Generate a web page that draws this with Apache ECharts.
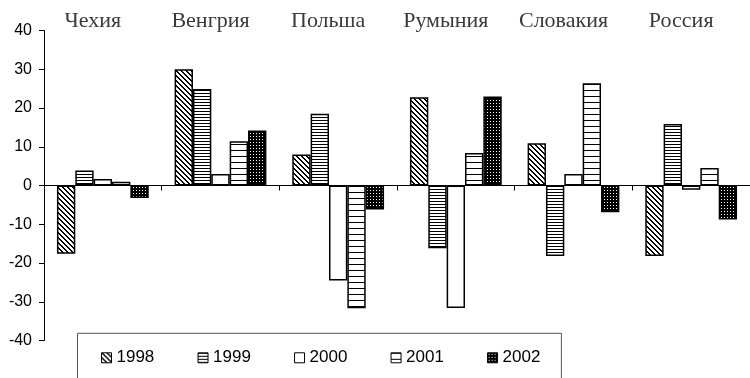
<!DOCTYPE html>
<html>
<head>
<meta charset="utf-8">
<script src="https://cdn.jsdelivr.net/npm/echarts@6/dist/echarts.min.js"></script>
<style>
html,body{margin:0;padding:0;background:#fff;}
#chart{width:750px;height:378px;}
</style>
</head>
<body>
<div id="chart"></div>
<script>
var categories = ['Чехия', 'Венгрия', 'Польша', 'Румыния', 'Словакия', 'Россия'];
var years = ['1998', '1999', '2000', '2001', '2002'];
var v1998 = [-17.6, 30.0, 8.0, 22.8, 10.9, -18.2];
var v1999 = [3.9, 24.9, 18.5, -16.2, -18.2, 15.9];
var v2000 = [1.7, 3.0, -24.5, -31.6, 3.0, -1.1];
var v2001 = [1.0, 11.4, -31.7, 8.4, 26.4, 4.5];
var v2002 = [-3.2, 14.2, -6.2, 23.0, -6.9, -8.8];
var yMin = -40, yMax = 40, yStep = 10;

function makePattern(kind) {
  var c = document.createElement('canvas');
  var w, h;
  if (kind === 'diag') { w = 5; h = 5; }
  else if (kind === 'hdense') { w = 4; h = 3; }
  else if (kind === 'hwide') { w = 4; h = 6; }
  else if (kind === 'dots') { w = 3; h = 3; }
  else { w = 2; h = 2; }
  c.width = w; c.height = h;
  var ctx = c.getContext('2d');
  ctx.fillStyle = '#fff';
  ctx.fillRect(0, 0, w, h);
  ctx.fillStyle = '#000';
  var x, y;
  if (kind === 'diag') {
    for (y = 0; y < h; y++) for (x = 0; x < w; x++) {
      var d = ((x - y) % 5 + 5) % 5;
      if (d === 0 || d === 1) ctx.fillRect(x, y, 1, 1);
    }
  } else if (kind === 'hdense') {
    ctx.fillRect(0, 0, w, 1);
  } else if (kind === 'hwide') {
    ctx.fillRect(0, 0, w, 1);
  } else if (kind === 'dots') {
    ctx.fillRect(0, 0, w, h);
    ctx.fillStyle = '#fff';
    ctx.fillRect(1, 1, 1, 1);
  }
  return { image: c, repeat: 'repeat' };
}

var fills = [makePattern('diag'), makePattern('hdense'), '#ffffff', makePattern('hwide'), makePattern('dots')];
var values = [v1998, v1999, v2000, v2001, v2002];

var series = years.map(function (yr, i) {
  return {
    name: yr,
    type: 'bar',
    data: values[i],
    barGap: '0%',
    barCategoryGap: '22%',
    itemStyle: { color: fills[i], borderColor: '#000', borderWidth: 1.5 },
    emphasis: { disabled: true },
    animation: false
  };
});

var chart = echarts.init(document.getElementById('chart'), null, { renderer: 'canvas' });
chart.setOption({
  animation: false,
  backgroundColor: '#fff',
  grid: { left: 44, top: 30.5, width: 708, height: 310, containLabel: false },
  legend: {
    data: years.map(function (y) { return { name: y, icon: 'rect' }; }),
    left: 77.5,
    top: 333.3,
    itemWidth: 10,
    itemHeight: 10,
    itemGap: 43.2,
    padding: [16, 21, 40, 23.5],
    borderColor: '#555',
    borderWidth: 1,
    itemStyle: { borderWidth: 1, borderColor: '#000' },
    textStyle: { fontFamily: 'Liberation Sans, Arial, sans-serif', fontSize: 17, color: '#000' }
  },
  xAxis: [
    {
      type: 'category',
      data: categories,
      position: 'bottom',
      axisLine: { onZero: true, lineStyle: { color: '#000', width: 1 } },
      axisTick: { show: true, length: 5, lineStyle: { color: '#000' } },
      axisLabel: { show: false },
      splitLine: { show: false }
    },
    {
      type: 'category',
      data: categories,
      position: 'top',
      axisLine: { show: false },
      axisTick: { show: false },
      splitLine: { show: false },
      axisLabel: {
        show: true,
        margin: -2,
        color: '#3a3a3a',
        fontFamily: 'Liberation Serif, Times New Roman, serif',
        fontSize: 22,
        padding: [0, 20, 0, 0]
      }
    }
  ],
  yAxis: {
    type: 'value',
    min: yMin,
    max: yMax,
    interval: yStep,
    axisLine: { show: true, lineStyle: { color: '#000', width: 1 } },
    axisTick: { show: true, length: 5, lineStyle: { color: '#000' } },
    splitLine: { show: false },
    axisLabel: {
      margin: 12,
      color: '#000',
      fontFamily: 'Liberation Sans, Arial, sans-serif',
      fontSize: 16
    }
  },
  series: series
});
</script>
</body>
</html>
